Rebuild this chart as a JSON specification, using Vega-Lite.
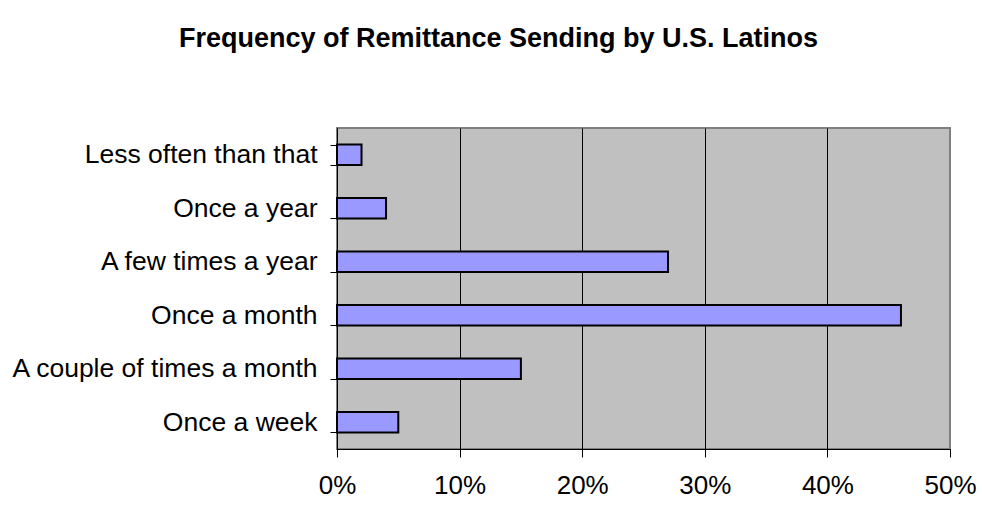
{
  "$schema": "https://vega.github.io/schema/vega-lite/v6.json",
  "width": 613,
  "height": 321,
  "autosize": "none",
  "padding": {"left": 337, "top": 128, "right": 32, "bottom": 61},
  "background": "white",
  "title": {
    "text": "Frequency of Remittance Sending by U.S. Latinos",
    "font": "Liberation Sans",
    "fontSize": 27,
    "fontWeight": "bold",
    "color": "black",
    "anchor": "middle",
    "frame": "group",
    "dx": -145,
    "offset": 62
  },
  "data": {
    "values": [
      {"category": "Less often than that", "share": 0.02},
      {"category": "Once a year", "share": 0.04},
      {"category": "A few times a year", "share": 0.27},
      {"category": "Once a month", "share": 0.46},
      {"category": "A couple of times a month", "share": 0.15},
      {"category": "Once a week", "share": 0.05}
    ]
  },
  "mark": {"type": "bar", "fill": "#9999FF", "stroke": "black", "strokeWidth": 2},
  "encoding": {
    "y": {
      "field": "category",
      "type": "nominal",
      "sort": null,
      "title": null,
      "scale": {"paddingInner": 0.62, "paddingOuter": 0.31},
      "axis": {
        "tickBand": "extent",
        "tickSize": 7,
        "tickColor": "black",
        "domainColor": "black",
        "labelFont": "Liberation Sans",
        "labelFontSize": 26.5,
        "labelColor": "black",
        "labelPadding": 13,
        "labelLimit": 500,
        "grid": false
      }
    },
    "x": {
      "field": "share",
      "type": "quantitative",
      "title": null,
      "scale": {"domain": [0, 0.5], "nice": false},
      "axis": {
        "values": [0, 0.1, 0.2, 0.3, 0.4, 0.5],
        "format": ".0%",
        "tickSize": 8,
        "tickColor": "black",
        "domainColor": "black",
        "labelFont": "Liberation Sans",
        "labelFontSize": 26,
        "labelColor": "black",
        "labelPadding": 15,
        "labelFlush": false,
        "grid": true,
        "gridColor": {"condition": {"test": "datum.value >= 0.5", "value": "#808080"}, "value": "black"},
        "gridOpacity": 1,
        "gridWidth": 1
      }
    }
  },
  "config": {
    "view": {"fill": "#C0C0C0", "stroke": "#808080", "strokeWidth": 2}
  }
}
